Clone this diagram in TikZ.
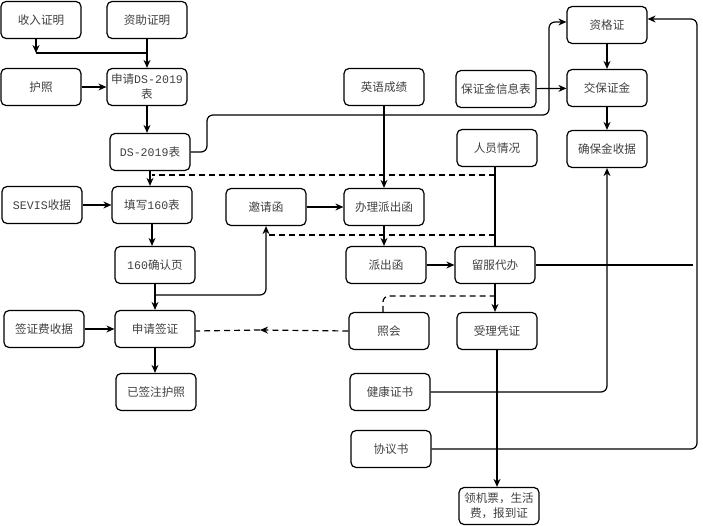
\documentclass[tikz,border=0pt]{standalone}
\usepackage{fontspec}
\setmainfont{Noto Sans CJK SC}
\setmonofont{Liberation Mono}
\usetikzlibrary{arrows.meta}

\begin{document}
\begin{tikzpicture}[x=1pt, y=-1pt,
	box/.style={draw, rounded corners=5pt, line width=1.2pt, minimum width=80pt,
		minimum height=37pt, inner sep=1pt, align=center,
		font=\fontsize{11.6}{15}\selectfont, text=black!75},
	arr/.style={line width=1.2pt, -{Stealth[length=8pt,width=7pt]}},
	ln/.style={line width=1.2pt},
	dl/.style={line width=1.2pt, dash pattern=on 6pt off 4pt}]
	\useasboundingbox (0,0) rectangle (703,526);
	% left column
	\node[box] (sr) at (41,20) {收入证明};
	\node[box] (zz) at (147,20) {资助证明};
	\node[box] (hz) at (41,87) {护照};
	\node[box] (sq) at (147,87) {申请\texttt{DS-2019}\\表};
	\node[box] (ds) at (150,152) {\texttt{DS-2019}表};
	\node[box] (sevis) at (42,205) {\texttt{SEVIS}收据};
	\node[box] (tx) at (152,205) {填写\texttt{160}表};
	\node[box] (qr) at (155,265) {\texttt{160}确认页};
	\node[box] (qfsj) at (44,329) {签证费收据};
	\node[box] (sqqz) at (155,329) {申请签证};
	\node[box] (yqz) at (156,392) {已签注护照};
	% middle
	\node[box] (yqh) at (266,207) {邀请函};
	\node[box] (yy) at (384,87) {英语成绩};
	\node[box] (bl) at (384,207) {办理派出函};
	\node[box] (pch) at (386,265) {派出函};
	\node[box] (zh) at (389,331) {照会};
	\node[box] (jk) at (390,392) {健康证书};
	\node[box] (xy) at (391,449) {协议书};
	\node[box] (bzx) at (496,89) {保证金信息表};
	\node[box] (ry) at (497,148) {人员情况};
	\node[box] (lf) at (495,265) {留服代办};
	\node[box] (sl) at (497,331) {受理凭证};
	\node[box] (lj) at (499,506) {领机票，生活\\费，报到证};
	% right column
	\node[box] (zg) at (607,25) {资格证};
	\node[box] (jb) at (607,88) {交保证金};
	\node[box] (qb) at (607,149) {确保金收据};

	\coordinate (j1) at (36,53);
	\coordinate (j2) at (207,115);
	\coordinate (j3) at (266,295);
	\coordinate (j4) at (260,330);
	\coordinate (j5) at (549,22);
	\coordinate (j6) at (697,19);
	\coordinate (j7) at (693,265);
	\coordinate (d1) at (0,175);
	\coordinate (d2) at (0,235);
	\coordinate (d3) at (0,296);

	\draw[arr] (sr.south -| j1) -- (j1);
	\draw[ln] (j1) -- (j1 -| zz.south);
	\draw[arr] (zz) -- (sq);
	\draw[arr] (hz) -- (sq);
	\draw[arr] (sq.south) -- (sq.south |- ds.north);
	\draw[arr, rounded corners=6pt] (ds.east) -| (j2) -| (j5) -- (zg.west |- j5);
	\draw[arr] (ds.south) -- (ds.south |- tx.north);
	\draw[arr] (sevis) -- (tx);
	\draw[arr] (tx.south) -- (tx.south |- qr.north);
	\draw[arr] (qr.south) -- (qr.south |- sqqz.north);
	\draw[arr, rounded corners=6pt] (qr.south |- j3) -| (yqh.south);
	\draw[arr] (qfsj) -- (sqqz);
	\draw[arr] (sqqz.south) -- (sqqz.south |- yqz.north);
	\draw[dl, -{Stealth[length=8pt,width=7pt]}] (zh.west) -- (j4);
	\draw[dl] (j4) -- (sqqz.east |- zh.west);

	\draw[ln] (lf.north |- ry.south) -- (lf.north);
	\draw[dl] (lf.north |- d1) -- (tx.north |- d1);
	\draw[dl] (lf.north |- d2) -- (yqh.south |- d2);
	\draw[arr] (yy.south) -- (yy.south |- bl.north);
	\draw[arr] (yqh) -- (bl);
	\draw[arr] (bl.south) -- (bl.south |- pch.north);
	\draw[arr] (pch) -- (lf);
	\draw[arr] (lf.south) -- (lf.south |- sl.north);
	\draw[dl, rounded corners=6pt] ([xshift=-6pt]zh.north) |- (lf.south |- d3);
	\draw[ln] (lf.east) -- (j7);
	\draw[arr] (sl.south) -- (sl.south |- lj.north);
	\draw[arr, rounded corners=6pt] (jk.east) -| (qb.south);
	\draw[arr, rounded corners=6pt] (xy.east) -| (j6) -- (zg.east |- j6);

	\draw[arr] (zg) -- (jb);
	\draw[arr] (bzx) -- (jb);
	\draw[arr] (jb) -- (qb);
\end{tikzpicture}
\end{document}
